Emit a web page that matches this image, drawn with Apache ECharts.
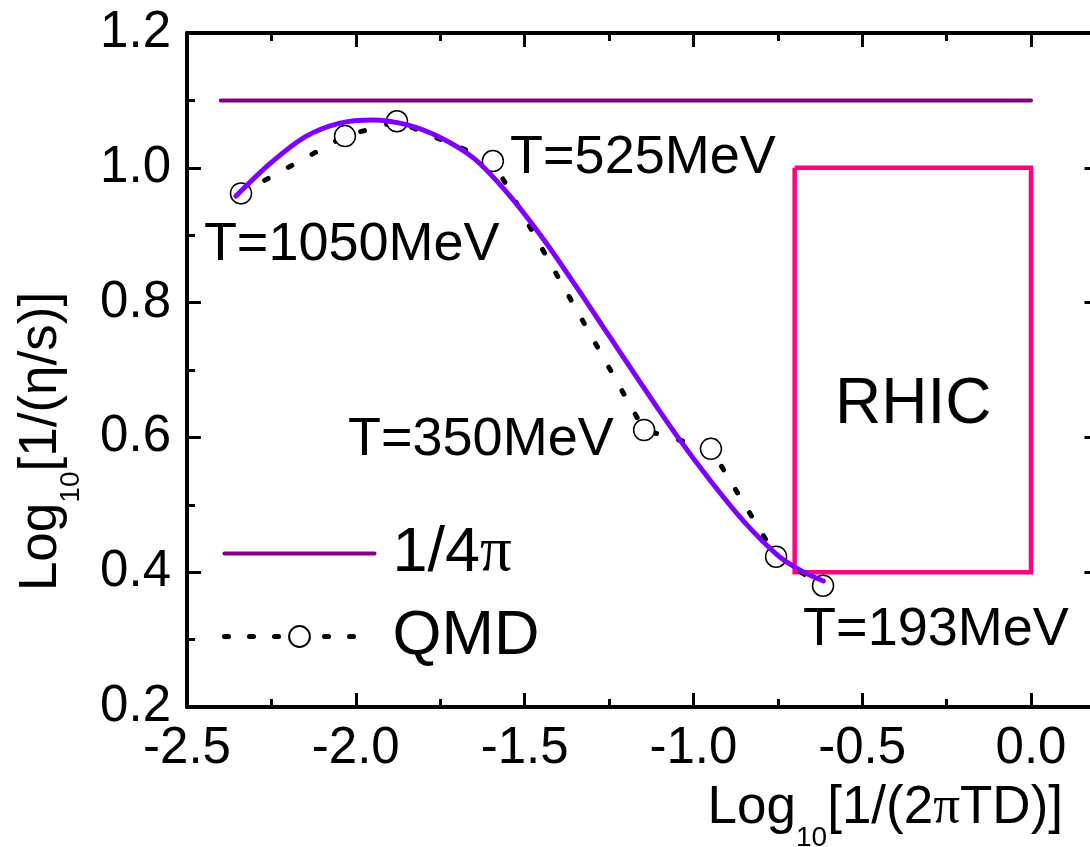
<!DOCTYPE html>
<html><head><meta charset="utf-8">
<script src="https://cdn.jsdelivr.net/npm/echarts@6/dist/echarts.min.js"></script>
<style>html,body{margin:0;padding:0;background:#fff;overflow:hidden}#c{width:1090px;height:847px}</style>
</head><body><div id="c"></div><script>
// QMD points
const qmdX = [-2.34, -2.032, -1.878, -1.594, -1.146, -0.948, -0.755, -0.616];
const qmdY = [0.962, 1.047, 1.069, 1.010, 0.611, 0.583, 0.423, 0.380];
// smooth fit curve (violet)
const fitX = [-2.355, -2.25, -2.15, -2.05, -1.95, -1.85, -1.75, -1.65, -1.55, -1.45, -1.35, -1.25, -1.15, -1.05, -0.95, -0.85, -0.75, -0.68, -0.615];
const fitY = [0.958, 1.008, 1.046, 1.066, 1.071, 1.064, 1.045, 1.014, 0.962, 0.898, 0.826, 0.751, 0.676, 0.603, 0.536, 0.475, 0.425, 0.402, 0.387];
// 1/4pi bound
const kssX = [-2.4, 0.0];
const kssY = [1.1, 1.1];
// RHIC box outline
const rhicX = [-0.7, 0.0, 0.0, -0.7, -0.7];
const rhicY = [1.0, 1.0, 0.4, 0.4, 1.0];
// annotations
const annText = ['T=1050MeV', 'T=525MeV', 'T=350MeV', 'T=193MeV'];
const annX = [-2.45, -1.543, -2.023, -0.675];
const annY = [0.885, 1.015, 0.596, 0.314];
const rhicLabel = 'RHIC';
const rhicLabelX = -0.349, rhicLabelY = 0.648;
const legendNames = ['1/4π', 'QMD'];

const zip = (a, b) => a.map((v, i) => [v, b[i]]);
const SANS = 'Liberation Sans';
const SERIF = 'Liberation Serif';

const chart = echarts.init(document.getElementById('c'), null, {renderer: 'canvas'});
const tickLine = {color: '#000', width: 3};
const axisCommon = (extra) => Object.assign({
  type: 'value',
  axisLine: {show: true, onZero: false, lineStyle: {color: '#000', width: 4}},
  axisTick: {show: true, inside: true, length: 14, lineStyle: tickLine},
  minorTick: {show: true, splitNumber: 2, length: 8, lineStyle: tickLine},
  splitLine: {show: false},
  minorSplitLine: {show: false}
}, extra);

const titleRich = {
  a: {fontSize: 53, fontFamily: SANS, lineHeight: 53, verticalAlign: 'top', color: '#000'},
  p: {fontSize: 53, fontFamily: SERIF, lineHeight: 53, verticalAlign: 'top', color: '#000'},
  s: {fontSize: 28, fontFamily: SANS, lineHeight: 28, verticalAlign: 'bottom', color: '#000'},
  z: {fontSize: 10, lineHeight: 70, verticalAlign: 'top', color: '#000'}
};

const option = {
  animation: false,
  backgroundColor: '#fff',
  grid: {left: 187, top: 33, width: 911.5, height: 674, outerBoundsMode: 'none', containLabel: false},
  xAxis: [
    axisCommon({min: -2.5, max: 0.2, interval: 0.5, position: 'bottom',
      axisLabel: {show: true, color: '#000', fontSize: 51, fontFamily: SANS, margin: 16, showMaxLabel: false,
        formatter: v => v.toFixed(1)}}),
    axisCommon({min: -2.5, max: 0.2, interval: 0.5, position: 'top', axisLabel: {show: false}})
  ],
  yAxis: [
    axisCommon({min: 0.2, max: 1.2, interval: 0.2, position: 'left',
      axisLabel: {show: true, color: '#000', fontSize: 51, fontFamily: SANS, margin: 16,
        formatter: v => v.toFixed(1)}}),
    axisCommon({min: 0.2, max: 1.2, interval: 0.2, position: 'right', axisLabel: {show: false}})
  ],
  legend: {
    data: [
      {name: legendNames[0], itemStyle: {opacity: 0}, lineStyle: {width: 4, color: '#800080'}},
      {name: legendNames[1], lineStyle: {width: 5, color: '#000', type: [4, 21], cap: 'round'}}
    ],
    orient: 'vertical', left: 222, top: 522, padding: 0,
    itemWidth: 150, itemHeight: 26, itemGap: 20,
    textStyle: {color: '#000', fontSize: 63, fontFamily: SANS, lineHeight: 63, padding: [0, 0, 0, 13],
      rich: {a: {fontSize: 63, fontFamily: SANS, color: '#000'}, p: {fontSize: 63, fontFamily: SERIF, color: '#000'}}},
    formatter: n => n === '1/4π' ? '{a|1/4}{p|π}' : '{a|' + n + '}'
  },
  series: [
    {name: '1/4π', type: 'line', data: zip(kssX, kssY), symbol: 'none', z: 3,
     lineStyle: {color: '#800080', width: 4, cap: 'round'}, itemStyle: {color: '#800080'}},
    {name: 'RHIC', type: 'line', data: zip(rhicX, rhicY), symbol: 'none', z: 2,
     lineStyle: {color: '#FF0080', width: 4.5, join: 'miter'}, itemStyle: {color: '#FF0080'}},
    {name: 'QMD', type: 'line', data: zip(qmdX, qmdY), smooth: false, z: 4,
     symbol: 'circle', symbolSize: 21,
     itemStyle: {color: '#fff', borderColor: '#000', borderWidth: 1.5},
     lineStyle: {color: '#000', width: 5, type: [4, 23], cap: 'round'}},
    {name: 'fit', type: 'line', data: zip(fitX, fitY), smooth: 0.35, symbol: 'none', z: 6,
     lineStyle: {color: '#7F00FF', width: 5, cap: 'round'}, itemStyle: {color: '#7F00FF'}},
    {name: 'labels', type: 'scatter', z: 7, symbolSize: 0, silent: true,
     itemStyle: {opacity: 1},
     data: annText.map((t, i) => ({name: t, value: [annX[i], annY[i]]})),
     label: {show: true, position: 'right', distance: 0, formatter: '{b}', color: '#000', opacity: 1, fontSize: 54, fontFamily: SANS}},
    {name: 'rhicLabel', type: 'scatter', z: 7, symbolSize: 0, silent: true,
     itemStyle: {opacity: 1},
     data: [{name: rhicLabel, value: [rhicLabelX, rhicLabelY]}],
     label: {show: true, position: 'inside', formatter: '{b}', color: '#000', opacity: 1, fontSize: 64, fontFamily: SANS}}
  ],
  graphic: [
    {type: 'text', x: 1063, y: 782, z: 10,
     style: {text: '{a|Log}{s|10}{a|[1/(2}{p|π}{a|TD)]}{z|\u200b}', align: 'right', verticalAlign: 'top', rich: titleRich}},
    {type: 'text', x: 15, y: 441.5, rotation: Math.PI / 2, z: 10,
     style: {text: '{a|Log}{s|10}{a|[1/(η/s)]}{z|\u200b}', align: 'center', verticalAlign: 'top', rich: titleRich}}
  ]
};
chart.setOption(option);
</script></body></html>
